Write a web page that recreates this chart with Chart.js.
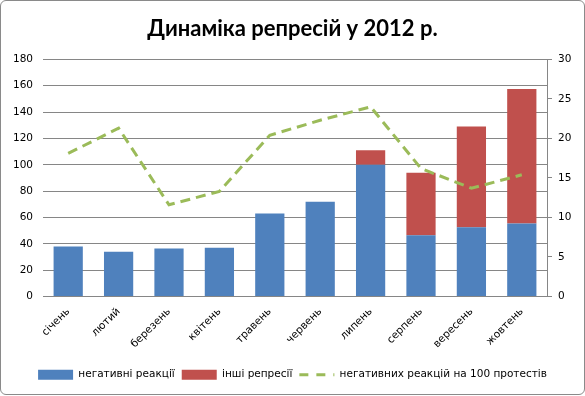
<!DOCTYPE html>
<html>
<head>
<meta charset="utf-8">
<script src="https://cdn.jsdelivr.net/npm/chart.js@4"></script>
<style>
  html, body { margin: 0; padding: 0; background: #fff; }
  #wrap { position: relative; width: 583px; height: 393px; border: 1px solid #8a8a8a; border-radius: 6px; overflow: hidden; }
</style>
</head>
<body>
<div id="wrap"><canvas id="c"></canvas></div>
<script>
// data
const months = ['січень','лютий','березень','квітень','травень','червень','липень','серпень','вересень','жовтень'];
const negative = [38, 34, 36.5, 37, 63, 72, 100, 46.5, 52.5, 55.5];
const otherRepr = [0, 0, 0, 0, 0, 0, 11, 47.5, 76.5, 102];
const per100 = [18.1, 21.3, 11.6, 13.3, 20.4, 22.3, 24, 16.2, 13.7, 15.4];

const tickFont = {family: 'DejaVu Sans', size: 10.5};
const lineDash = [10, 6];

new Chart(document.getElementById('c'), {
  data: {
    labels: months,
    datasets: [
      {type:'bar', label:'негативні реакції', data: negative, backgroundColor:'#4F81BD', stack:'s', order:1},
      {type:'bar', label:'інші репресії', data: otherRepr, backgroundColor:'#C0504D', stack:'s', order:1},
      {type:'line', label:'негативних реакцій на 100 протестів', data: per100, yAxisID:'y2',
       borderColor:'#9BBB59', backgroundColor:'#9BBB59', borderWidth:3, borderDash: lineDash,
       pointRadius:0, tension:0, order:0}
    ]
  },
  options: {
    responsive: true, maintainAspectRatio: false, animation: false,
    layout: {padding: {left: 0, right: 0, top: 0, bottom: 4}},
    datasets: {bar: {categoryPercentage: 1, barPercentage: 0.58}},
    plugins: {
      title: {display: true, text: 'Динаміка репресій у 2012 р.', color:'#000',
        font: {family: 'Lato', size: 22, weight: 'bold'}, padding: {top: 15, bottom: 17}},
      legend: {position: 'bottom',
        labels: {color:'#000', font: {family:'DejaVu Sans', size: 10.5}, usePointStyle: true,
          pointStyleWidth: 35, boxHeight: 10, padding: 7,
          sort: (a, b) => a.datasetIndex - b.datasetIndex,
          generateLabels: (chart) => {
            const items = Chart.defaults.plugins.legend.labels.generateLabels(chart);
            items.forEach(it => {
              if (it.datasetIndex === 2) {
                it.pointStyle = 'line'; it.lineWidth = 3; it.lineDash = [9, 8];
                it.strokeStyle = '#9BBB59';
              } else { it.pointStyle = 'rect'; it.lineWidth = 0; }
            });
            return items;
          }}},
      tooltip: {enabled: false}
    },
    scales: {
      x: {stacked: true, grid: {display: false, drawTicks: false}, border: {color:'#868686'},
          ticks: {color:'#000', font: tickFont, maxRotation: 45, minRotation: 45, padding: 9},
          afterFit: s => { s.height = 66; }},
      y: {stacked: true, min: 0, max: 180, position: 'left',
          ticks: {stepSize: 20, color:'#000', font: tickFont, padding: 10},
          grid: {color:'#868686', drawTicks: false}, border: {display: false},
          afterFit: s => { s.width = 42; }},
      y2: {min: 0, max: 30, position: 'right',
          ticks: {stepSize: 5, color:'#000', font: tickFont, padding: 6},
          grid: {drawOnChartArea: false, color:'#868686', tickLength: 5}, border: {color:'#868686'},
          afterFit: s => { s.width = 37; }}
    }
  }
});
</script>
</body>
</html>
